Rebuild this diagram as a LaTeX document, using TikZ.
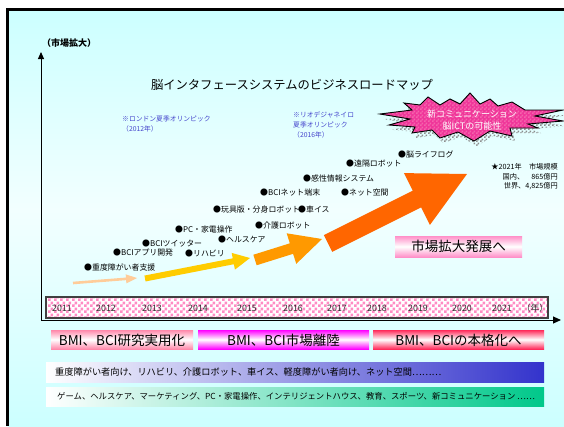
\documentclass[tikz,border=0pt]{standalone}
\usepackage{fontspec}
\setmainfont{Noto Sans CJK JP}
\usetikzlibrary{calc,patterns,arrows.meta}
\definecolor{bgcyan}{HTML}{CCFFFF}
\definecolor{bglight}{HTML}{F2FFFF}
\definecolor{notebl}{HTML}{4444CC}
\definecolor{peach}{HTML}{FFCC99}
\definecolor{yell}{HTML}{FFCC00}
\definecolor{oran}{HTML}{FF9900}
\definecolor{redor}{HTML}{FF6600}
\definecolor{starpink}{HTML}{F0369A}
\definecolor{tlpink}{HTML}{FF8CC4}
\definecolor{band1}{HTML}{FF88AA}
\definecolor{band2}{HTML}{FF00FF}
\definecolor{band3}{HTML}{FF2A5A}
\definecolor{bandpink}{HTML}{FF8FC8}
\definecolor{bandblue}{HTML}{3333CC}
\definecolor{bandgreen}{HTML}{00C88A}
\definecolor{yeartext}{HTML}{303030}
\pgfdeclarepatternformonly{mychecker}{\pgfpointorigin}{\pgfqpoint{6pt}{6pt}}{\pgfqpoint{6pt}{6pt}}{%
  \pgfpathrectangle{\pgfpointorigin}{\pgfqpoint{3pt}{3pt}}%
  \pgfpathrectangle{\pgfqpoint{3pt}{3pt}}{\pgfqpoint{3pt}{3pt}}%
  \pgfusepath{fill}}
\pgfdeclarepatternformonly{smallchecker}{\pgfpointorigin}{\pgfqpoint{4pt}{4pt}}{\pgfqpoint{4pt}{4pt}}{%
  \pgfpathrectangle{\pgfpointorigin}{\pgfqpoint{2pt}{2pt}}%
  \pgfpathrectangle{\pgfqpoint{2pt}{2pt}}{\pgfqpoint{2pt}{2pt}}%
  \pgfusepath{fill}}
\newcommand\fatarrow[6]{% color, tail, tip, shaft half, head length, head half
  \coordinate (faB) at ($(#3)!#5pt!(#2)$);
  \fill[#1] ($(#2)!#4pt!90:(#3)$) -- ($(faB)!#4pt!-90:(#2)$) -- ($(faB)!#6pt!-90:(#2)$) -- (#3)
    -- ($(faB)!#6pt!90:(#2)$) -- ($(faB)!#4pt!90:(#2)$) -- ($(#2)!#4pt!-90:(#3)$) -- cycle;}
\tikzset{
  bullet/.style={anchor=west, inner sep=0pt, font=\fontsize{7.9}{9}\selectfont},
  year/.style={inner sep=0pt, text=yeartext, font=\fontsize{8.8}{10}\selectfont},
  note/.style={anchor=north west, inner sep=0pt, align=left, text=notebl, font=\fontsize{6.8}{10.3}\selectfont},
  phase/.style={inner sep=0pt, font=\fontsize{13.5}{15}\selectfont},
  bandtext/.style={anchor=west, inner sep=0pt, font=\fontsize{9}{10}\selectfont},
}
\begin{document}
\begin{tikzpicture}[x=1pt,y=-1pt]
\useasboundingbox (0,0) rectangle (564,426);
\fill[white] (0,0) rectangle (564,426);
% background
\shade[top color=bgcyan, bottom color=bglight] (7.5,9.5) rectangle (564,210);
\shade[top color=bglight, bottom color=bgcyan] (7.5,210) rectangle (564,426);
\draw[line width=2.6pt] (7.5,426) -- (7.5,9.5) -- (564,9.5);

% axes
\coordinate (O) at (41,320);
\coordinate (Ytop) at (41,52);
\coordinate (Xend) at (561,320);
% timeline box
\fill[white] (46,297) rectangle (548,318);
\fill[pattern=mychecker, pattern color=tlpink] (46,297) rectangle (548,318);
\draw[line width=1.2pt, black!75] (46,297) rectangle (548,318);
\draw[line width=1pt, -{Triangle[length=7pt,width=6pt]}] (O) -- (Ytop);
\draw[line width=1pt, -{Triangle[length=8pt,width=7pt]}] (O) -- (Xend);

\foreach \x/\y in {62/2011,106/2012,152/2013,198/2014,247/2015,293/2016,337/2017,377/2018,418/2019,462/2020,502/2021}
  \node[year] (y\y) at (\x,308) {\y};
\node[year] (nen) at (535,308) {（年）};

\node[anchor=west, inner sep=0pt, font=\fontsize{9}{10}\bfseries\selectfont] (ylab) at (42,43) {（市場拡大）};

\node[inner sep=0pt, font=\fontsize{12.3}{14}\selectfont] (title) at (292,85) {脳インタフェースシステムのビジネスロードマップ};

\node[note] (london) at (122,115.5) {※ロンドン夏季オリンピック\\（2012年）};
\node[note, font=\fontsize{6.8}{10}\selectfont] (rio) at (293,111.5) {※リオデジャネイロ\\夏季オリンピック\\（2016年）};

% starburst
\def\starpath{(380,114) -- (412,110) -- (404,103) -- (420,105) -- (428,97) -- (440,105) -- (450,99) -- (460,104) -- (470,93) -- (480,104) -- (490,99) -- (498,106) -- (512,102) -- (525,110) -- (563,110) -- (535,116) -- (563,121) -- (528,124) -- (538,128) -- (510,128) -- (512,136) -- (490,131) -- (474,141) -- (458,132) -- (440,138) -- (432,130) -- (412,133) -- (415,127) -- (389,125) -- (410,119) -- cycle}
\fill[pattern=smallchecker, pattern color=black!45, shift={(3,5)}] \starpath;
\fill[starpink] \starpath;
\fill[pattern=smallchecker, pattern color=white!15!starpink!85!pink] \starpath;
\draw[line width=0.9pt, line join=miter] \starpath;
\node[inner sep=0pt, align=center, text=white, font=\fontsize{9}{12}\selectfont] (burst) at (472,120) {新コミュニケーション\\脳ICTの可能性};

% arrows
\coordinate (a1t) at (73,283);  \coordinate (a1h) at (137,278);
\coordinate (a2t) at (145,278.5); \coordinate (a2h) at (250,258);
\coordinate (a3t) at (255,260); \coordinate (a3h) at (322,239);
\coordinate (a4t) at (328,243.5); \coordinate (a4h) at (467,174);
\fatarrow{peach}{a1t}{a1h}{1.3}{11}{4.5}
\fatarrow{yell}{a2t}{a2h}{3}{17}{8.5}
\fatarrow{oran}{a3t}{a3h}{5.5}{32}{16}
\fatarrow{redor}{a4t}{a4h}{9.3}{56}{29}

% bullets
\node[bullet] (b1) at (84,267) {●重度障がい者支援};
\node[bullet] (b2) at (113,253) {●BCIアプリ開発};
\node[bullet] (b3) at (142,244) {●BCIツイッター};
\node[bullet] (b4) at (175,230) {●PC・家電操作};
\node[bullet] (b5) at (185,253) {●リハビリ};
\node[bullet] (b6) at (218,239) {●ヘルスケア};
\node[bullet] (b7) at (213,210) {●玩具版・分身ロボット};
\node[bullet] (b8) at (255,225) {●介護ロボット};
\node[bullet] (b9) at (260,192) {●BCIネット端末};
\node[bullet] (b10) at (298,210) {●車イス};
\node[bullet] (b11) at (303,178) {●感性情報システム};
\node[bullet] (b12) at (341,192) {●ネット空間};
\node[bullet] (b13) at (346,163) {●遠隔ロボット};
\node[bullet] (b14) at (398,154) {●脳ライフログ};

\node[anchor=north east, inner sep=0pt, align=right, font=\fontsize{7.2}{9.5}\selectfont] (market) at (558,163.5) {★2021年　市場規模\\国内、　865億円\\世界、4,825億円};

% expansion box
\shade[top color=bandpink, bottom color=bandpink, middle color=white] (395,236) rectangle (522,257);
\node[phase, font=\fontsize{13.5}{15}\selectfont] (expand) at (458.5,246.5) {市場拡大発展へ};

% phases
\shade[top color=band1, bottom color=band1, middle color=white] (51,330) rectangle (193,349);
\node[phase] (ph1) at (122,340) {BMI、BCI研究実用化};
\shade[top color=band2, bottom color=band2, middle color=white] (198,330) rectangle (369,349);
\node[phase] (ph2) at (283.5,340) {BMI、BCI市場離陸};
\shade[top color=band3, bottom color=band3, middle color=white] (373,330) rectangle (544,349);
\node[phase] (ph3) at (458.5,340) {BMI、BCIの本格化へ};

% bands
\shade[left color=white, right color=bandblue] (46,362) rectangle (544,382);
\node[bandtext, font=\fontsize{9.2}{10}\selectfont] (band1) at (55,372) {重度障がい者向け、リハビリ、介護ロボット、車イス、軽度障がい者向け、ネット空間………};
\shade[left color=white, right color=bandgreen] (46,387) rectangle (544,406);
\node[bandtext, font=\fontsize{8.35}{10}\selectfont] (band2) at (57,396.5) {ゲーム、ヘルスケア、マーケティング、PC・家電操作、インテリジェントハウス、教育、スポーツ、新コミュニケーション ……};
\end{tikzpicture}
\end{document}
